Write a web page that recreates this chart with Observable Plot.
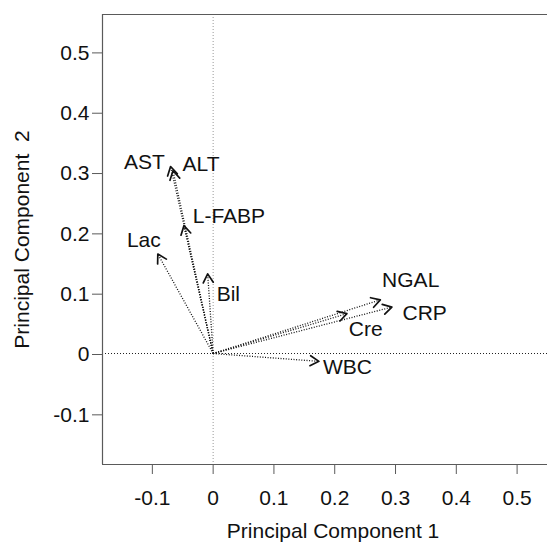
<!DOCTYPE html>
<html>
<head>
<meta charset="utf-8">
<script src="https://cdn.jsdelivr.net/npm/d3@7"></script>
<script src="https://cdn.jsdelivr.net/npm/@observablehq/plot@0.6"></script>
<style>
  html, body { margin: 0; padding: 0; background: #fff; overflow: hidden; }
  #chart svg { display: block; }
</style>
</head>
<body>
<div id="chart"></div>
<script>
const variables = ["AST", "ALT", "L-FABP", "Lac", "Bil", "NGAL", "CRP", "Cre", "WBC"];
const pc1 = [-0.070, -0.066, -0.048, -0.091, -0.009, 0.275, 0.294, 0.220, 0.174];
const pc2 = [0.310, 0.303, 0.212, 0.165, 0.132, 0.089, 0.077, 0.066, -0.013];
const labelPc1 = [-0.113, -0.020, 0.026, -0.114, 0.025, 0.325, 0.348, 0.251, 0.221];
const labelPc2 = [0.317, 0.313, 0.227, 0.187, 0.099, 0.121, 0.066, 0.041, -0.023];

const xTicks = [-0.1, 0, 0.1, 0.2, 0.3, 0.4, 0.5];
const xTickLabels = ["-0.1", "0", "0.1", "0.2", "0.3", "0.4", "0.5"];
const yTicks = [-0.1, 0, 0.1, 0.2, 0.3, 0.4, 0.5];
const yTickLabels = ["-0.1", "0", "0.1", "0.2", "0.3", "0.4", "0.5"];
const xDomain = [-0.182, 0.55];
const yDomain = [-0.184, 0.562];
const xTitle = "Principal Component 1";
const yTitle = "Principal Component  2";

const rows = variables.map((v, i) => ({
  name: v, x: pc1[i], y: pc2[i], lx: labelPc1[i], ly: labelPc2[i],
  angle: Math.atan2(pc1[i], pc2[i]) * 180 / Math.PI
}));

const chevron = {
  draw(context, l) {
    const a = l * Math.sin(Math.PI / 6), b = l * Math.cos(Math.PI / 6);
    context.moveTo(-a, b);
    context.lineTo(0, 0);
    context.lineTo(a, b);
  }
};

const frameColor = "#5a5a5a";
const fs = 21;

const plot = Plot.plot({
  width: 547,
  height: 542,
  marginLeft: 102,
  marginRight: 0,
  marginTop: 14,
  marginBottom: 78,
  style: { fontFamily: "'Liberation Sans', Arial, sans-serif", fontSize: fs + "px", color: "#111", background: "#fff" },
  x: { domain: xDomain },
  y: { domain: yDomain },
  marks: [
    Plot.ruleX([0], { stroke: "#999", strokeDasharray: "1,2", strokeWidth: 1 }),
    Plot.ruleY([0], { stroke: "#222", strokeDasharray: "1,2", strokeWidth: 1 }),
    Plot.ruleX([xDomain[0]], { stroke: frameColor, strokeWidth: 1.2 }),
    Plot.ruleY([yDomain[0], yDomain[1]], { stroke: frameColor, strokeWidth: 1.2 }),
    Plot.axisX({ ticks: xTicks, tickFormat: (d, i) => xTickLabels[i], tickSize: 10, tickPadding: 16, stroke: frameColor, label: null, fontSize: fs }),
    Plot.axisY({ ticks: yTicks, tickFormat: (d, i) => yTickLabels[i], tickSize: 10, tickPadding: 3, stroke: frameColor, label: null, fontSize: fs, dy: 1 }),
    Plot.text([xTitle], { frameAnchor: "bottom", text: d => d, dy: 67, dx: 8, fontSize: fs, lineAnchor: "middle", textAnchor: "middle" }),
    Plot.text([yTitle], { frameAnchor: "left", text: d => d, dx: -80, rotate: -90, fontSize: fs, lineAnchor: "middle", textAnchor: "middle" }),
    Plot.link(rows, { x1: () => 0, y1: () => 0, x2: "x", y2: "y", stroke: "#111", strokeWidth: 1.3, strokeDasharray: "1,1.6" }),
    Plot.vector(rows, { x: "x", y: "y", rotate: "angle", length: 10, anchor: "start", shape: chevron, stroke: "#111", strokeWidth: 1.7 }),
    Plot.text(rows, { x: "lx", y: "ly", text: "name", fontSize: fs, fill: "#111", lineAnchor: "middle", textAnchor: "middle" })
  ]
});

document.getElementById("chart").appendChild(plot);
</script>
</body>
</html>
